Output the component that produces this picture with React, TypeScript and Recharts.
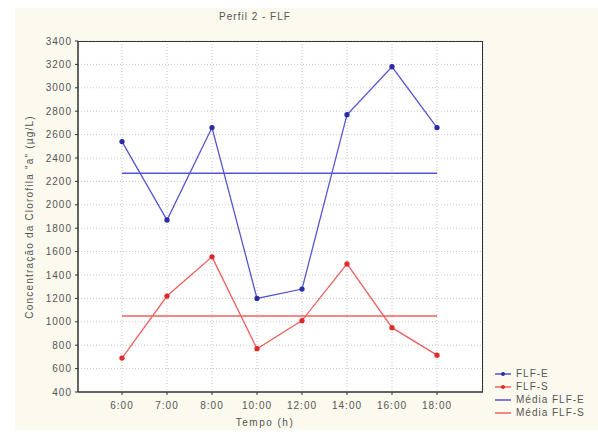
import { LineChart, Line, XAxis, YAxis, CartesianGrid, Label } from 'recharts'

const horas = ['6:00', '7:00', '8:00', '10:00', '12:00', '14:00', '16:00', '18:00']
const flfE = [2540, 1870, 2660, 1200, 1280, 2770, 3180, 2660]
const flfS = [690, 1220, 1555, 770, 1010, 1495, 950, 715]
const mediaE = 2270
const mediaS = 1050
const yTicks = [400, 600, 800, 1000, 1200, 1400, 1600, 1800, 2000, 2200, 2400, 2600, 2800, 3000, 3200, 3400]

const data = horas.map((h, i) => ({ hora: h, flfE: flfE[i], flfS: flfS[i], mediaE, mediaS }))

const BLUE = '#5555d0'
const BLUE_DOT = '#2a2aa8'
const RED = '#f06060'
const RED_DOT = '#e02828'
const TXT = '#555'
const FONT = '"Liberation Sans", Arial, sans-serif'

const legendItems = [
  { name: 'FLF-E', color: BLUE, dot: BLUE_DOT },
  { name: 'FLF-S', color: RED, dot: RED_DOT },
  { name: 'Média FLF-E', color: BLUE, dot: null },
  { name: 'Média FLF-S', color: RED, dot: null },
]

function LegendBox() {
  return (
    <div style={{ fontFamily: FONT, fontSize: 10, color: TXT, letterSpacing: 1 }}>
      {legendItems.map((it) => (
        <div key={it.name} style={{ display: 'flex', alignItems: 'center', height: 13 }}>
          <svg width={18} height={8} style={{ marginRight: 4 }}>
            <line x1={1} y1={4} x2={17} y2={4} stroke={it.color} strokeWidth={1.5} />
            {it.dot && <circle cx={9} cy={4} r={2} fill={it.dot} />}
          </svg>
          <span>{it.name}</span>
        </div>
      ))}
    </div>
  )
}

export default function App() {
  return (
    <div style={{ position: 'absolute', left: 0, top: 0, width: 598, height: 434, background: '#fff' }}>
      <div style={{ position: 'absolute', left: 15, top: 8, right: 0, bottom: 4, background: '#fcf9ef' }} />
      <div style={{ position: 'absolute', left: 78, top: 41, width: 405, height: 351, background: '#fff' }} />
      <div style={{ position: 'absolute', left: 0, top: 0 }}>
        <LineChart width={598} height={434} data={data} margin={{ top: 41, right: 115, bottom: 12, left: 20 }}>
          <CartesianGrid stroke="#c8c8c8" strokeDasharray="1 2" />
          <XAxis
            dataKey="hora"
            padding={{ left: 44, right: 46 }}
            height={30}
            stroke="#333"
            strokeWidth={1.5}
            tickLine={{ stroke: '#333', strokeWidth: 1 }}
            tickSize={3}
            tick={{ fill: TXT, fontSize: 10, fontFamily: FONT, letterSpacing: 1 }}
            tickMargin={7}
          >
            <Label
              content={() => (
                <text x={265} y={426} textAnchor="middle" fill={TXT} fontSize={10} fontFamily={FONT} letterSpacing={1.5}>
                  Tempo (h)
                </text>
              )}
            />
          </XAxis>
          <YAxis
            domain={[400, 3400]}
            ticks={yTicks}
            width={58}
            stroke="#333"
            strokeWidth={1.5}
            tickSize={3}
            tickLine={{ stroke: '#333', strokeWidth: 1 }}
            tick={{ fill: TXT, fontSize: 10, fontFamily: FONT, letterSpacing: 1 }}
            tickMargin={3}
          >
            <Label
              content={() => (
                <text
                  x={33}
                  y={217}
                  transform="rotate(-90 33 217)"
                  textAnchor="middle"
                  fill={TXT}
                  fontSize={10}
                  fontFamily={FONT}
                  letterSpacing={1.2}
                >
                  Concentração da Clorofila "a" (µg/L)
                </text>
              )}
            />
          </YAxis>
          <Line dataKey="mediaE" stroke={BLUE} strokeWidth={1.5} dot={false} isAnimationActive={false} />
          <Line dataKey="mediaS" stroke={RED} strokeWidth={1.5} dot={false} isAnimationActive={false} />
          <Line
            dataKey="flfE"
            stroke={BLUE}
            strokeWidth={1.3}
            dot={{ r: 2, fill: BLUE_DOT, stroke: BLUE_DOT }}
            isAnimationActive={false}
          />
          <Line
            dataKey="flfS"
            stroke={RED}
            strokeWidth={1.3}
            dot={{ r: 2, fill: RED_DOT, stroke: RED_DOT }}
            isAnimationActive={false}
          />
        </LineChart>
      </div>
      <div
        style={{
          position: 'absolute',
          left: 78,
          top: 41,
          width: 405,
          height: 351,
          boxSizing: 'border-box',
          borderTop: '1.5px solid #333',
          borderRight: '1.5px solid #333',
          pointerEvents: 'none',
        }}
      />
      <div style={{ position: 'absolute', left: 494, top: 367 }}>
        <LegendBox />
      </div>
      <div
        style={{
          position: 'absolute',
          left: 205,
          top: 11,
          width: 100,
          textAlign: 'center',
          fontFamily: FONT,
          fontSize: 10,
          color: TXT,
          letterSpacing: 1,
        }}
      >
        Perfil 2 - FLF
      </div>
    </div>
  )
}
